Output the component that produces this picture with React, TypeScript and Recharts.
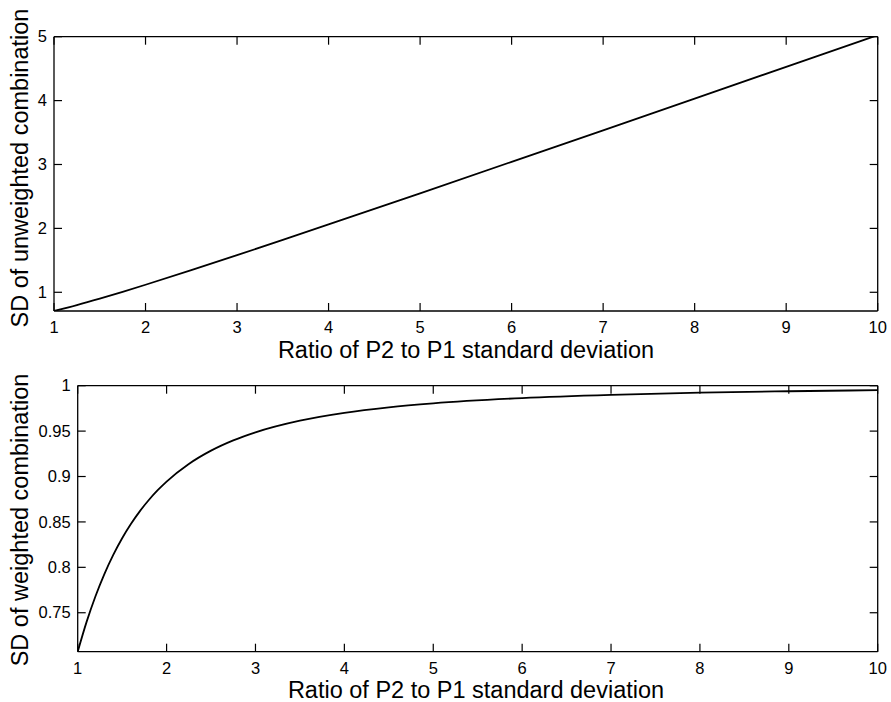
import React from 'react';
import { LineChart, Line, XAxis, YAxis } from 'recharts';

// Ratio of P2 to P1 standard deviation (x) and SD of unweighted combination (top panel)
const ratioTop = [1, 1.25, 1.5, 1.75, 2, 2.5, 3, 3.5, 4, 5, 6, 7, 8, 9, 10];
const sdUnweighted = [0.7071, 0.8004, 0.9014, 1.0078, 1.118, 1.3463, 1.5811, 1.82, 2.0616, 2.5495, 3.0414, 3.5355, 4.0311, 4.5277, 5.0249];

// Ratio (x) and SD of weighted combination (bottom panel)
const ratioBottom = [1, 1.1, 1.2, 1.3, 1.4, 1.5, 1.6, 1.7, 1.8, 1.9, 2, 2.25, 2.5, 2.75, 3, 3.5, 4, 4.5, 5, 6, 7, 8, 9, 10];
const sdWeighted = [0.70711, 0.73994, 0.76822, 0.79262, 0.81373, 0.83205, 0.848, 0.86193, 0.87416, 0.88491, 0.89443, 0.91381, 0.92848, 0.93979, 0.94868, 0.96152, 0.97014, 0.97619, 0.98058, 0.98639, 0.98995, 0.99228, 0.99388, 0.99504];

const xTicks = [1, 2, 3, 4, 5, 6, 7, 8, 9, 10];
const yTicksTop = [1, 2, 3, 4, 5];
const yTicksBottom = [0.75, 0.8, 0.85, 0.9, 0.95, 1];

const xLabel = 'Ratio of P2 to P1 standard deviation';
const yLabelTop = 'SD of unweighted combination';
const yLabelBottom = 'SD of weighted combination';

const topData = ratioTop.map((r, i) => ({ r, v: sdUnweighted[i] }));
const bottomData = ratioBottom.map((r, i) => ({ r, v: sdWeighted[i] }));

const FONT = '"Liberation Sans", Arial, Helvetica, sans-serif';
const TICK_FS = 16.5;
const TICK_LEN = 8;
const TICK_W = 1.2;
const axisLine = { stroke: '#000', strokeWidth: 1.3 };

function BottomTick(p: any) {
  const { x, y, payload } = p;
  return (
    <g>
      <line x1={x} x2={x} y1={y} y2={y - TICK_LEN} stroke="#000" strokeWidth={TICK_W} />
      <text x={x} y={y + 22} textAnchor="middle" fontSize={TICK_FS} fontFamily={FONT} fill="#000">
        {String(payload.value)}
      </text>
    </g>
  );
}

function TopTick(p: any) {
  const { x, y } = p;
  return <line x1={x} x2={x} y1={y} y2={y + TICK_LEN} stroke="#000" strokeWidth={TICK_W} />;
}

function LeftTick(p: any) {
  const { x, y, payload } = p;
  return (
    <g>
      <line x1={x} x2={x + TICK_LEN} y1={y} y2={y} stroke="#000" strokeWidth={TICK_W} />
      <text x={x - 7} y={y + 5.6} textAnchor="end" fontSize={TICK_FS} fontFamily={FONT} fill="#000">
        {String(payload.value)}
      </text>
    </g>
  );
}

function RightTick(p: any) {
  const { x, y } = p;
  return <line x1={x} x2={x - TICK_LEN} y1={y} y2={y} stroke="#000" strokeWidth={TICK_W} />;
}

function Panel(props: {
  data: { r: number; v: number }[];
  yDomain: [number, number];
  yTicks: number[];
  yAxisWidth: number;
  width: number;
  height: number;
  margin: { top: number; right: number; bottom: number; left: number };
}) {
  const { data, yDomain, yTicks, yAxisWidth, width, height, margin } = props;
  return (
    <LineChart width={width} height={height} data={data} margin={margin} style={{ overflow: 'visible' }}>
      <XAxis
        xAxisId="b"
        dataKey="r"
        type="number"
        domain={[1, 10]}
        ticks={xTicks}
        orientation="bottom"
        height={30}
        tickSize={0}
        tickMargin={0}
        tick={<BottomTick />}
        axisLine={axisLine}
        tickLine={false}
        allowDataOverflow
        interval={0}
      />
      <XAxis
        xAxisId="t"
        dataKey="r"
        type="number"
        domain={[1, 10]}
        ticks={xTicks}
        orientation="top"
        height={1}
        tickSize={0}
        tickMargin={0}
        tick={<TopTick />}
        axisLine={axisLine}
        tickLine={false}
        allowDataOverflow
        interval={0}
      />
      <YAxis
        yAxisId="l"
        type="number"
        domain={yDomain}
        ticks={yTicks}
        orientation="left"
        width={yAxisWidth}
        tickSize={0}
        tickMargin={0}
        tick={<LeftTick />}
        axisLine={axisLine}
        tickLine={false}
        allowDataOverflow
        interval={0}
      />
      <YAxis
        yAxisId="r"
        type="number"
        domain={yDomain}
        ticks={yTicks}
        orientation="right"
        width={1}
        tickSize={0}
        tickMargin={0}
        tick={<RightTick />}
        axisLine={axisLine}
        tickLine={false}
        allowDataOverflow
        interval={0}
      />
      <Line
        xAxisId="b"
        yAxisId="l"
        dataKey="v"
        type="monotone"
        stroke="#000"
        strokeWidth={1.8}
        dot={false}
        activeDot={false}
        isAnimationActive={false}
      />
    </LineChart>
  );
}

export default function App() {
  return (
    <div style={{ position: 'absolute', left: 0, top: 0, width: 891, height: 702, background: '#fff' }}>
      <div style={{ position: 'absolute', left: 0, top: 0 }}>
        <Panel
          data={topData}
          yDomain={[0.7071, 5]}
          yTicks={yTicksTop}
          yAxisWidth={50}
          width={891}
          height={345}
          margin={{ top: 35.7, right: 12.3, bottom: 4, left: 4 }}
        />
      </div>
      <div style={{ position: 'absolute', left: 0, top: 360 }}>
        <Panel
          data={bottomData}
          yDomain={[0.7071, 1]}
          yTicks={yTicksBottom}
          yAxisWidth={60}
          width={891}
          height={342}
          margin={{ top: 24.7, right: 12.3, bottom: 20.3, left: 17.7 }}
        />
      </div>
      <svg
        width={891}
        height={702}
        style={{ position: 'absolute', left: 0, top: 0, pointerEvents: 'none' }}
      >
        <text x={466} y={358} textAnchor="middle" fontSize={23.5} fontFamily={FONT} fill="#000">
          {xLabel}
        </text>
        <text x={476} y={698} textAnchor="middle" fontSize={23.5} fontFamily={FONT} fill="#000">
          {xLabel}
        </text>
        <text
          x={0}
          y={0}
          transform="translate(28,168) rotate(-90)"
          textAnchor="middle"
          fontSize={23.5}
          fontFamily={FONT}
          fill="#000"
        >
          {yLabelTop}
        </text>
        <text
          x={0}
          y={0}
          transform="translate(28,520) rotate(-90)"
          textAnchor="middle"
          fontSize={23.5}
          fontFamily={FONT}
          fill="#000"
        >
          {yLabelBottom}
        </text>
      </svg>
    </div>
  );
}
